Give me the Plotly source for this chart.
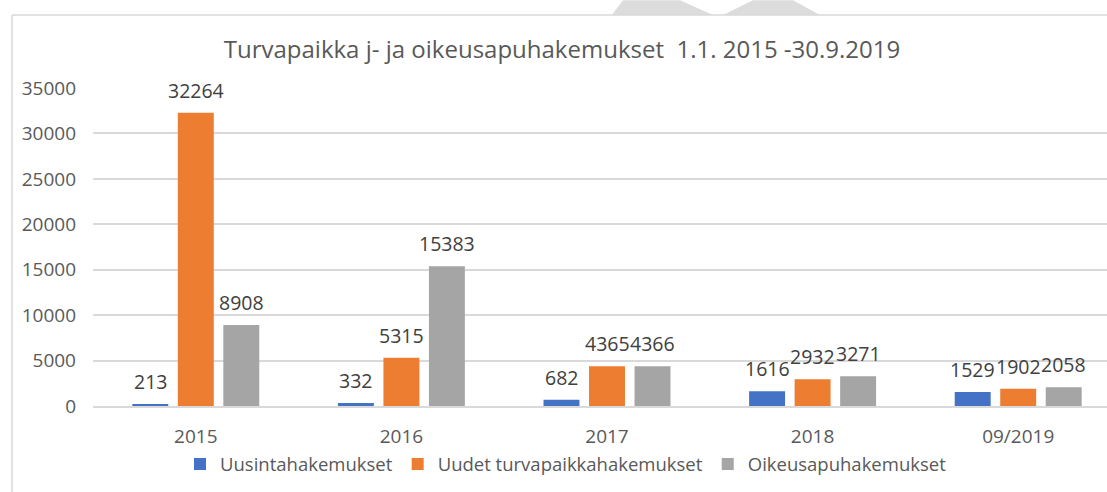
import plotly.graph_objects as go

categories = ["2015", "2016", "2017", "2018", "09/2019"]
uusinta = [213, 332, 682, 1616, 1529]
uudet = [32264, 5315, 4365, 2932, 1902]
oikeus = [8908, 15383, 4366, 3271, 2058]
series_names = ["Uusintahakemukset", "Uudet turvapaikkahakemukset", "Oikeusapuhakemukset"]
colors = ["#4472C4", "#ED7D31", "#A5A5A5"]
title_text = "Turvapaikka j- ja oikeusapuhakemukset  1.1. 2015 -30.9.2019"
y_ticks = [0, 5000, 10000, 15000, 20000, 25000, 30000, 35000]

W, H = 1107, 492
ML, MR, MT, MB = 93, 0, 88, 85.5
BARGAP, GROUPGAP = 0.336, 0.21
FONT = "Open Sans, Liberation Sans, sans-serif"

def px_x(px):
    return (px - ML) / (W - ML - MR)

def px_y(py):
    return (H - MB - py) / (H - MT - MB)

fig = go.Figure()
all_series = [uusinta, uudet, oikeus]
for name, vals, col in zip(series_names, all_series, colors):
    fig.add_trace(go.Bar(x=categories, y=vals, name=name, marker_color=col,
                         marker_line_width=0, hoverinfo="x+y+name"))

slot = (1 - BARGAP) / len(all_series)
annotations = []
for k, vals in enumerate(all_series):
    off = (k - (len(all_series) - 1) / 2) * slot
    for i, v in enumerate(vals):
        annotations.append(dict(x=i + off, y=v, xref="x", yref="y", text=str(v),
                                showarrow=False, yanchor="bottom", yshift=7,
                                font=dict(family=FONT, size=19.5, color="#404040")))

grey = "#D9D9D9"
shapes = [
    dict(type="line", xref="paper", yref="paper", x0=px_x(12), x1=px_x(W + 5),
         y0=px_y(15), y1=px_y(15), line=dict(color=grey, width=1.5)),
    dict(type="line", xref="paper", yref="paper", x0=px_x(12), x1=px_x(12),
         y0=px_y(15), y1=px_y(H + 5), line=dict(color=grey, width=1.5)),
]
for poly in ([(612, 15), (623, 0), (680, 0), (713, 15)],
             [(723, 15), (753, 0), (793, 0), (820, 15)]):
    path = "M " + " L ".join(f"{px_x(a):.5f},{px_y(b):.5f}" for a, b in poly) + " Z"
    shapes.append(dict(type="path", xref="paper", yref="paper", path=path,
                       fillcolor="#DCDCDC", line=dict(width=0), layer="below"))

fig.update_layout(
    width=W, height=H,
    margin=dict(l=ML, r=MR, t=MT, b=MB, pad=0),
    paper_bgcolor="white", plot_bgcolor="white",
    barmode="group", bargap=BARGAP, bargroupgap=GROUPGAP,
    title=dict(text=title_text, x=562 / W, y=1 - 50 / H, xanchor="center", yanchor="middle",
               font=dict(family=FONT, size=24, color="#595959")),
    font=dict(family=FONT, color="#595959"),
    xaxis=dict(type="category", range=[-0.5, 4.5 - 14 / 205.5], showgrid=False,
               showline=True, linecolor=grey, linewidth=1.5, ticks="",
               tickfont=dict(family=FONT, size=19, color="#595959"), ticklabelstandoff=12),
    yaxis=dict(range=[0, 35000], tickvals=y_ticks, tickformat="d", showgrid=True,
               gridcolor=grey, gridwidth=1.5, zeroline=False, showline=False, ticks="",
               tickfont=dict(family=FONT, size=19, color="#595959"), ticklabelstandoff=16),
    legend=dict(orientation="h", x=px_x(566), y=px_y(465), xanchor="center", yanchor="middle",
                font=dict(family=FONT, size=18.5, color="#595959"), bgcolor="rgba(0,0,0,0)"),
    annotations=annotations,
    shapes=shapes,
)

fig.write_html("out.html", config={"displayModeBar": False},
               post_script="document.body.style.margin='0';")
